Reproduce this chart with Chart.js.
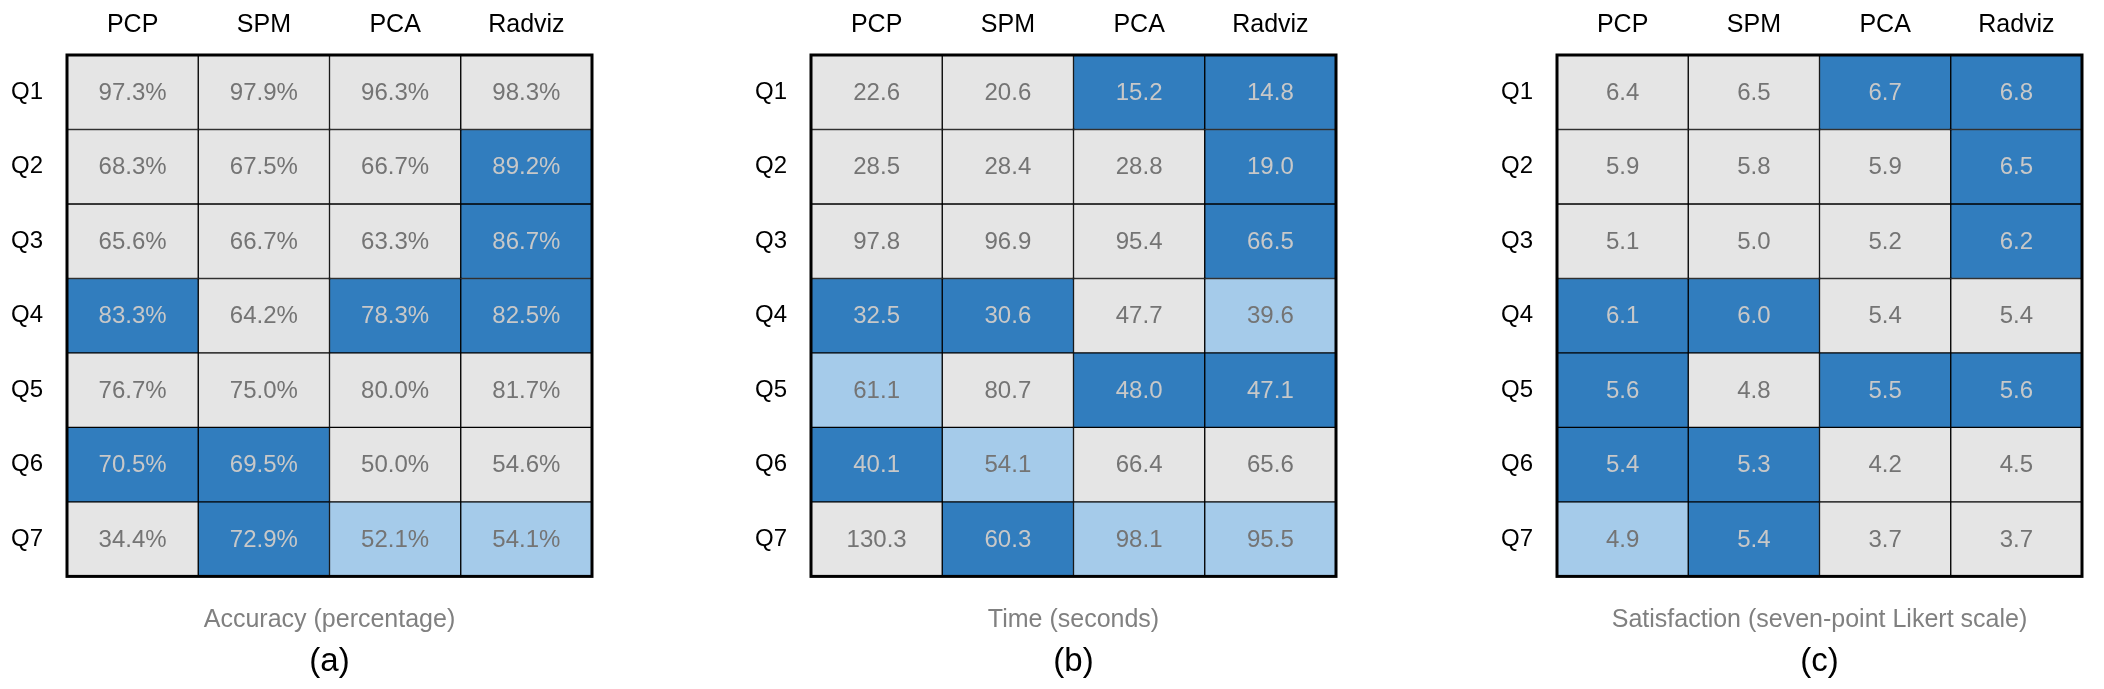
<!DOCTYPE html>
<html>
<head>
<meta charset="utf-8">
<script src="https://cdn.jsdelivr.net/npm/chart.js@4.4.1/dist/chart.umd.min.js"></script>
<style>
  html, body { margin: 0; padding: 0; background: #fff; overflow: hidden; }
  #wrap { position: relative; width: 2104px; height: 689px; }
  .panel { position: absolute; top: 0; width: 610px; height: 689px; }
</style>
</head>
<body>
<div id="wrap">
  <div class="panel" style="left:0px"><canvas id="chartA"></canvas></div>
  <div class="panel" style="left:744px"><canvas id="chartB"></canvas></div>
  <div class="panel" style="left:1490px"><canvas id="chartC"></canvas></div>
</div>
<script>
  // --- データ ---
  const columns = ['PCP', 'SPM', 'PCA', 'Radviz'];
  const rows = ['Q1', 'Q2', 'Q3', 'Q4', 'Q5', 'Q6', 'Q7'];

  const accuracyValues = [
    [97.3, 97.9, 96.3, 98.3],
    [68.3, 67.5, 66.7, 89.2],
    [65.6, 66.7, 63.3, 86.7],
    [83.3, 64.2, 78.3, 82.5],
    [76.7, 75.0, 80.0, 81.7],
    [70.5, 69.5, 50.0, 54.6],
    [34.4, 72.9, 52.1, 54.1]
  ];
  const timeValues = [
    [22.6, 20.6, 15.2, 14.8],
    [28.5, 28.4, 28.8, 19.0],
    [97.8, 96.9, 95.4, 66.5],
    [32.5, 30.6, 47.7, 39.6],
    [61.1, 80.7, 48.0, 47.1],
    [40.1, 54.1, 66.4, 65.6],
    [130.3, 60.3, 98.1, 95.5]
  ];
  const satisfactionValues = [
    [6.4, 6.5, 6.7, 6.8],
    [5.9, 5.8, 5.9, 6.5],
    [5.1, 5.0, 5.2, 6.2],
    [6.1, 6.0, 5.4, 5.4],
    [5.6, 4.8, 5.5, 5.6],
    [5.4, 5.3, 4.2, 4.5],
    [4.9, 5.4, 3.7, 3.7]
  ];

  // 0 = grey, 1 = dark blue, 2 = light blue
  const accuracyLevels = [
    [0, 0, 0, 0],
    [0, 0, 0, 1],
    [0, 0, 0, 1],
    [1, 0, 1, 1],
    [0, 0, 0, 0],
    [1, 1, 0, 0],
    [0, 1, 2, 2]
  ];
  const timeLevels = [
    [0, 0, 1, 1],
    [0, 0, 0, 1],
    [0, 0, 0, 1],
    [1, 1, 0, 2],
    [2, 0, 1, 1],
    [1, 2, 0, 0],
    [0, 1, 2, 2]
  ];
  const satisfactionLevels = [
    [0, 0, 1, 1],
    [0, 0, 0, 1],
    [0, 0, 0, 1],
    [1, 1, 0, 0],
    [1, 0, 1, 1],
    [1, 1, 0, 0],
    [2, 1, 0, 0]
  ];

  const cellColors = ['#e5e5e5', '#317dbe', '#a5cbea'];
  const FONT = '"Liberation Sans", Arial, Helvetica, sans-serif';

  function makeHeatmap(id, values, levels, caption, tag, format) {
    // セルの数値ラベル
    const cellLabels = {
      id: 'cellLabels',
      afterDatasetsDraw(chart) {
        const ctx = chart.ctx;
        ctx.save();
        ctx.font = '24px ' + FONT;
        ctx.textAlign = 'center';
        ctx.textBaseline = 'middle';
        chart.data.datasets.forEach((ds, r) => {
          chart.getDatasetMeta(r).data.forEach((bar, c) => {
            const p = bar.getCenterPoint();
            ctx.fillStyle = levels[r][c] === 1 ? '#c8c8c8' : '#747474';
            ctx.fillText(format(values[r][c]), p.x, p.y + 1);
          });
        });
        ctx.restore();
      }
    };

    // 外枠
    const frame = {
      id: 'frame',
      afterDatasetsDraw(chart) {
        const a = chart.chartArea;
        const ctx = chart.ctx;
        ctx.save();
        ctx.strokeStyle = '#000';
        ctx.lineWidth = 3;
        ctx.strokeRect(a.left, a.top, a.right - a.left, a.bottom - a.top);
        ctx.restore();
      }
    };

    new Chart(document.getElementById(id), {
      type: 'bar',
      data: {
        labels: columns,
        datasets: rows.map((q, r) => ({
          label: q,
          data: columns.map(() => [r, r + 1]),
          backgroundColor: (c) => cellColors[levels[r][c.dataIndex]],
          borderColor: '#000',
          borderWidth: 1,
          borderSkipped: false,
          grouped: false,
          barPercentage: 1,
          categoryPercentage: 1
        }))
      },
      options: {
        responsive: true,
        maintainAspectRatio: false,
        animation: false,
        layout: { padding: { left: 0, right: 18, top: 0, bottom: 0 } },
        plugins: {
          legend: { display: false },
          tooltip: { enabled: false },
          subtitle: {
            display: true,
            text: caption,
            position: 'bottom',
            fullSize: false,
            color: '#808080',
            font: { family: FONT, size: 25, weight: 'normal' },
            padding: { top: 29, bottom: 0 }
          },
          title: {
            display: true,
            text: tag,
            position: 'bottom',
            fullSize: false,
            color: '#000',
            font: { family: FONT, size: 33, weight: 'normal' },
            padding: { top: 7, bottom: 7 }
          }
        },
        scales: {
          x: {
            position: 'top',
            offset: true,
            grid: { display: false, drawTicks: false },
            border: { display: false },
            ticks: { color: '#000', padding: 15, font: { family: FONT, size: 25 } },
            afterFit: (s) => { s.height = 55; }
          },
          y: {
            display: false,
            min: 0,
            max: 7,
            reverse: true
          },
          yq: {
            type: 'category',
            labels: rows,
            position: 'left',
            offset: true,
            grid: { display: false, drawTicks: false },
            border: { display: false },
            ticks: { color: '#000', padding: 24, font: { family: FONT, size: 24 } },
            afterFit: (s) => { s.width = 67; }
          }
        }
      },
      plugins: [frame, cellLabels]
    });
  }

  makeHeatmap('chartA', accuracyValues, accuracyLevels, 'Accuracy (percentage)', '(a)', v => v.toFixed(1) + '%');
  makeHeatmap('chartB', timeValues, timeLevels, 'Time (seconds)', '(b)', v => v.toFixed(1));
  makeHeatmap('chartC', satisfactionValues, satisfactionLevels, 'Satisfaction (seven-point Likert scale)', '(c)', v => v.toFixed(1));
</script>
</body>
</html>
